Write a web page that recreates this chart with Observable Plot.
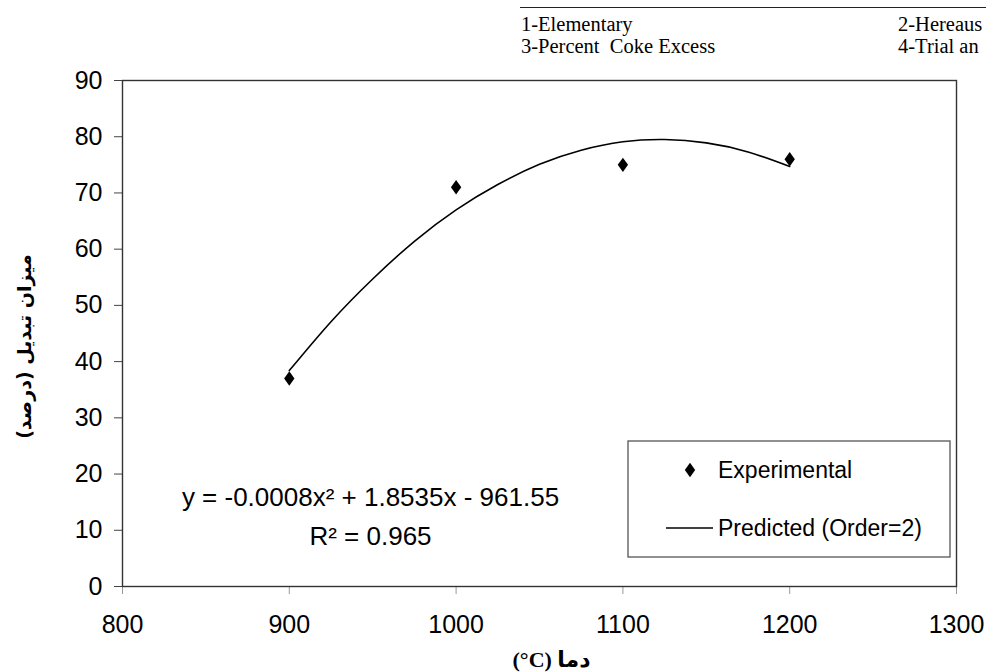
<!DOCTYPE html>
<html><head><meta charset="utf-8">
<script src="https://cdn.jsdelivr.net/npm/d3@7"></script>
<script src="https://cdn.jsdelivr.net/npm/@observablehq/plot@0.6"></script>
<style>
html,body{margin:0;padding:0;background:#fff;overflow:hidden;width:986px;height:672px}
#wrap{position:relative;width:986px;height:672px;overflow:hidden}
.hdr{position:absolute;font-family:"Liberation Serif","Times New Roman",serif;font-size:20.5px;line-height:1;color:#000;white-space:pre}
.rule{position:absolute;left:520px;top:7px;width:470px;border-top:1.5px solid #222}
</style></head><body><div id="wrap"></div>
<script>
// Observed data points
const temps = [900, 1000, 1100, 1200];
const conversion = [37, 71, 75, 76];
// Trend curve
const fitTemps = [900, 925, 950, 975, 1000, 1025, 1050, 1075, 1100, 1125, 1150, 1175, 1200];
const fitValues = [38.4, 47.1, 54.7, 61.4, 67.0, 71.5, 75.1, 77.6, 79.1, 79.5, 78.9, 77.3, 74.7];
// Tick labels
const xTicks = [800, 900, 1000, 1100, 1200, 1300];
const yTicks = [0, 10, 20, 30, 40, 50, 60, 70, 80, 90];
// Texts (header right column is cut off in the source; visible part kept)
const headerLeft = ["1-Elementary", "3-Percent  Coke Excess"];
const headerRight = ["2-Hereaus", "4-Trial an"];
const equationText = "y = -0.0008x\u00B2 + 1.8535x - 961.55";
const r2Text = "R\u00B2 = 0.965";
const yLabel = "\u202Bمیزان تبدیل (درصد)\u202C";
const xLabel = "\u202Bدما (\u200E°C)\u202C";
const legendLabels = ["Experimental", "Predicted (Order=2)"];

const obs = temps.map((t, i) => ({t, c: conversion[i]}));
const fit = fitTemps.map((t, i) => ({t, v: fitValues[i]}));

const diamondSym = {
  draw(ctx, size) {
    const r = Math.sqrt(size / Math.PI);
    const h = r * 1.6, w = r * 1.15;
    ctx.moveTo(0, -h); ctx.lineTo(w, 0); ctx.lineTo(0, h); ctx.lineTo(-w, 0); ctx.closePath();
  }
};

const chart = Plot.plot({
  width: 986, height: 672,
  marginTop: 80, marginBottom: 86, marginLeft: 122, marginRight: 30,
  style: {fontFamily: "'Liberation Sans', Arial, sans-serif", background: "#fff", color: "#000", overflow: "visible"},
  x: {domain: [800, 1300], ticks: xTicks},
  y: {domain: [0, 90], ticks: yTicks},
  marks: [
    Plot.axisX({ticks: xTicks, tickSize: 8, tickPadding: 21, fontSize: 25, label: null, tickFormat: d => String(d), stroke: "#999"}),
    Plot.axisY({ticks: yTicks, tickSize: 8, tickPadding: 12, fontSize: 25, label: null, stroke: "#444"}),
    Plot.frame({stroke: "#333", strokeWidth: 1.4}),
    Plot.line(fit, {x: "t", y: "v", curve: "natural", stroke: "#000", strokeWidth: 1.6}),
    Plot.dot(obs, {x: "t", y: "c", symbol: diamondSym, r: 4.5, fill: "#000", stroke: "none"}),
    Plot.text([equationText], {text: d => d, frameAnchor: "bottom-left", dx: 370 - 122, dy: 497 - 586, fontSize: 26, textAnchor: "middle", lineAnchor: "middle", fill: "#000"}),
    Plot.text([r2Text], {text: d => d, frameAnchor: "bottom-left", dx: 370 - 122, dy: 536 - 586, fontSize: 26, textAnchor: "middle", lineAnchor: "middle", fill: "#000"}),
    Plot.text([yLabel], {text: d => d, frameAnchor: "left", rotate: -90, dx: -98, dy: 13, fontSize: 19, fontWeight: "bold", fontFamily: "'DejaVu Sans', sans-serif", textAnchor: "middle", lineAnchor: "middle", fill: "#000"}),
    Plot.text([xLabel], {text: d => d, frameAnchor: "bottom", dx: 12, dy: 73, fontSize: 22, fontWeight: "bold", fontFamily: "'Liberation Serif', 'DejaVu Sans', serif", textAnchor: "middle", lineAnchor: "middle", fill: "#000"})
  ]
});

// Legend box drawn inside the chart's SVG
const svg = d3.select(chart);
const lg = svg.append("g").attr("text-anchor", "start");
lg.append("rect").attr("x", 628).attr("y", 441).attr("width", 322).attr("height", 116)
  .attr("fill", "#fff").attr("stroke", "#555").attr("stroke-width", 1.3);
lg.append("path").attr("transform", "translate(690,470)")
  .attr("d", d3.symbol(diamondSym, Math.PI * 4.5 * 4.5)()).attr("fill", "#000");
lg.append("line").attr("x1", 666).attr("x2", 713).attr("y1", 528).attr("y2", 528)
  .attr("stroke", "#000").attr("stroke-width", 1.6);
legendLabels.forEach((txt, i) => {
  lg.append("text").attr("x", 718).attr("y", i === 0 ? 478 : 536)
    .attr("text-anchor", "start")
    .attr("font-size", 23).attr("font-family", "'Liberation Sans', Arial, sans-serif")
    .attr("fill", "#000").text(txt);
});

const wrap = document.getElementById("wrap");
wrap.appendChild(chart);
chart.style.position = "absolute"; chart.style.left = "0"; chart.style.top = "0";

const rule = document.createElement("div"); rule.className = "rule"; wrap.appendChild(rule);
headerLeft.forEach((t, i) => {
  const d = document.createElement("div"); d.className = "hdr";
  d.style.left = "521px"; d.style.top = (14 + i * 22) + "px"; d.textContent = t; wrap.appendChild(d);
});
headerRight.forEach((t, i) => {
  const d = document.createElement("div"); d.className = "hdr";
  d.style.left = "898px"; d.style.top = (14 + i * 22) + "px"; d.textContent = t; wrap.appendChild(d);
});
</script></body></html>
